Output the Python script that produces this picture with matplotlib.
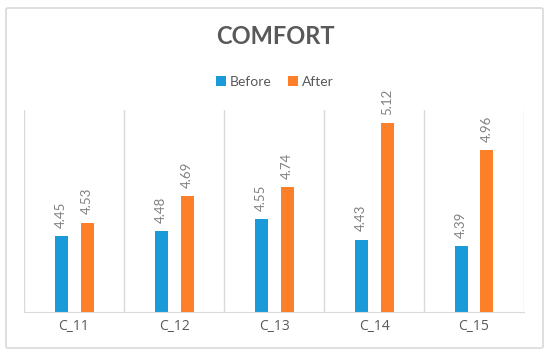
import numpy as np
import matplotlib.pyplot as plt
from matplotlib.patches import FancyBboxPatch

categories = ["C_11", "C_12", "C_13", "C_14", "C_15"]
before = [4.45, 4.48, 4.55, 4.43, 4.39]
after = [4.53, 4.69, 4.74, 5.12, 4.96]

blue = "#1a9ad8"
orange = "#fd7f27"

plt.rcParams['font.family'] = ['Lato', 'DejaVu Sans']

fig = plt.figure(figsize=(5.5, 3.56), dpi=100)

# outer chart border
fig.patches.append(FancyBboxPatch((6 / 550, 8 / 356), 537 / 550, 340 / 356,
                                  boxstyle="round,pad=0,rounding_size=0.004",
                                  transform=fig.transFigure, fill=False,
                                  edgecolor="#d9d9d9", linewidth=1.2))

ax = fig.add_axes([24 / 550, 44 / 356, 500 / 550, 202 / 356])

x = np.arange(len(categories))
w = 0.13
off = 0.13
b1 = ax.bar(x - off, before, w, color=blue, label="Before")
b2 = ax.bar(x + off, after, w, color=orange, label="After")

for bars, vals in ((b1, before), (b2, after)):
    for r, v in zip(bars, vals):
        ax.annotate(f"{v:.2f}", (r.get_x() + r.get_width() / 2, v),
                    xytext=(0, 6), textcoords="offset points",
                    rotation=90, ha="center", va="bottom",
                    fontsize=9.5, color="#808080")

ax.set_ylim(4.0, 5.2)
ax.set_xlim(-0.5, len(categories) - 0.5)
ax.set_yticks([])
ax.set_xticks(x)
ax.set_xticklabels(categories, fontsize=10, color="#595959",
                   family=['Open Sans', 'DejaVu Sans'])
ax.tick_params(axis='x', length=0, pad=5)

# vertical separators between categories
for b in np.arange(-0.5, len(categories), 1.0):
    ax.axvline(b, color="#d9d9d9", linewidth=1, zorder=0)

for s in ("top", "right", "left"):
    ax.spines[s].set_visible(False)
ax.spines["bottom"].set_color("#d9d9d9")

fig.text(0.5, 1 - 37 / 356, "COMFORT", ha="center", va="center",
         fontsize=17, fontweight="bold", color="#595959")

fig.legend(handles=[b1, b2], labels=["Before", "After"], loc="center",
           bbox_to_anchor=(0.5, 1 - 82 / 356), ncol=2, frameon=False,
           fontsize=10, handlelength=0.7, handleheight=0.7,
           handletextpad=0.3, columnspacing=1.2, labelcolor="#595959")

fig.savefig("out.png", dpi=100)
